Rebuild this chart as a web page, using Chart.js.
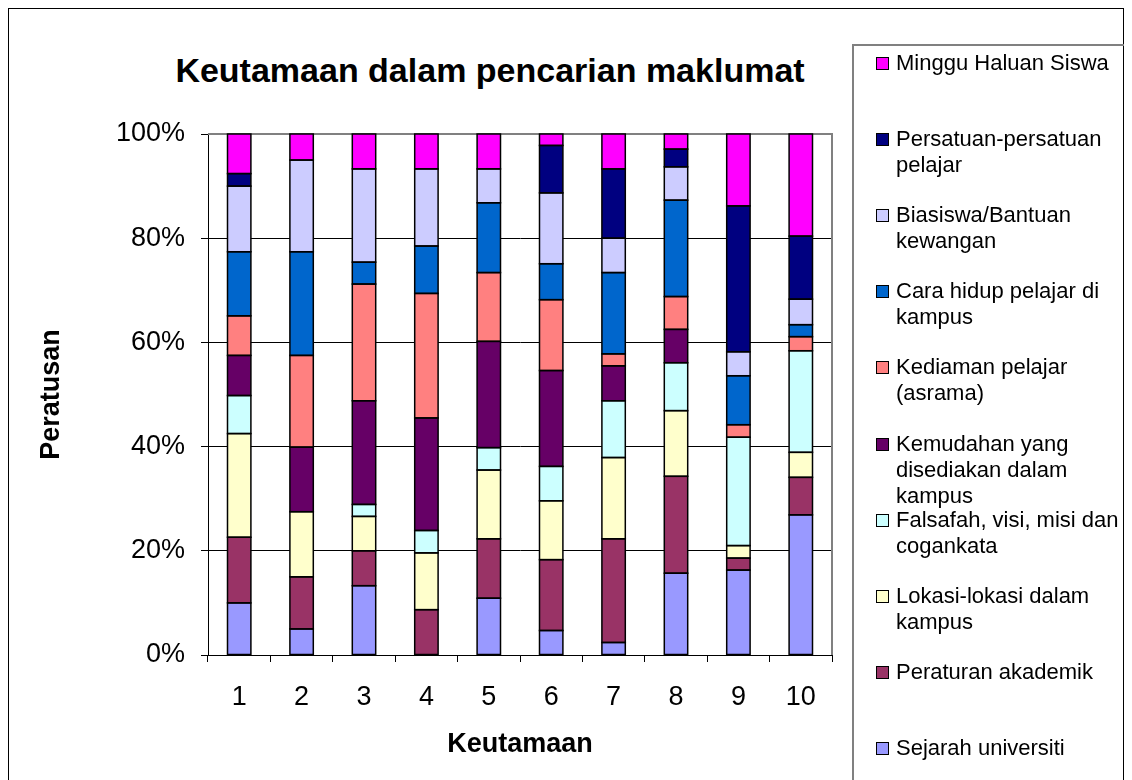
<!DOCTYPE html>
<html>
<head>
<meta charset="utf-8">
<script src="https://cdn.jsdelivr.net/npm/chart.js@4/dist/chart.umd.min.js"></script>
<style>
  body { margin: 0; background: #fff; font-family: Arial, "Liberation Sans", sans-serif; }
  #wrap { position: relative; width: 1132px; height: 780px; overflow: hidden; background: #fff; }
  #frame { position: absolute; left: 8px; top: 8px; width: 1116px; height: 800px; border: 1px solid #000; box-sizing: border-box; }
  #title { position: absolute; left: 0; width: 980px; top: 50px; text-align: center; font-weight: bold; font-size: 34px; line-height: 40px; color: #000; }
  #c { position: absolute; left: 0; top: 0; }
  #legend { position: absolute; left: 852px; top: 44px; width: 272px; height: 800px; border: 2px solid #808080; border-right: none; box-sizing: border-box; overflow: hidden; }
  .item { position: absolute; left: 22px; font-size: 22px; line-height: 26px; color: #000; white-space: pre; }
  .swatch { position: absolute; left: 0; top: 7px; width: 11px; height: 11px; border: 1px solid #000; }
  .label { position: absolute; left: 20px; top: 0; }
</style>
</head>
<body>
<div id="wrap">
  <div id="frame"></div>
  <div id="title">Keutamaan dalam pencarian maklumat</div>
  <canvas id="c" width="1132" height="780"></canvas>
  <div id="legend"></div>
</div>
<script>
const categories = ['1', '2', '3', '4', '5', '6', '7', '8', '9', '10'];

// series from bottom of the stack to top
const seriesNames = [
  'Sejarah universiti',
  'Peraturan akademik',
  'Lokasi-lokasi dalam\nkampus',
  'Falsafah, visi, misi dan\ncogankata',
  'Kemudahan yang\ndisediakan dalam\nkampus',
  'Kediaman pelajar\n(asrama)',
  'Cara hidup pelajar di\nkampus',
  'Biasiswa/Bantuan\nkewangan',
  'Persatuan-persatuan\npelajar',
  'Minggu Haluan Siswa'
];
const seriesColors = ['#9999FF', '#993366', '#FFFFCC', '#CCFFFF', '#660066',
                      '#FF8080', '#0066CC', '#CCCCFF', '#000080', '#FF00FF'];

const sejarah   = [10.0,  5.0, 13.3,  0.0, 10.9,  4.7,  2.4, 15.7, 16.3, 26.9];
const peraturan = [12.6, 10.0,  6.7,  8.7, 11.4, 13.6, 19.9, 18.6,  2.3,  7.2];
const lokasi    = [19.9, 12.5,  6.6, 10.9, 13.2, 11.3, 15.6, 12.6,  2.4,  4.8];
const falsafah  = [ 7.3,  0.0,  2.3,  4.3,  4.3,  6.6, 10.9,  9.2, 20.8, 19.5];
const kemudahan = [ 7.7, 12.4, 19.9, 21.6, 20.4, 18.4,  6.7,  6.4,  0.0,  0.0];
const kediaman  = [ 7.6, 17.6, 22.4, 23.9, 13.2, 13.6,  2.3,  6.3,  2.4,  2.7];
const caraHidup = [12.3, 19.9,  4.2,  9.1, 13.4,  6.9, 15.6, 18.5,  9.4,  2.3];
const biasiswa  = [12.6, 17.6, 17.9, 14.8,  6.5, 13.6,  6.6,  6.4,  4.6,  4.9];
const persatuan = [ 2.4,  0.0,  0.0,  0.0,  0.0,  9.1, 13.3,  3.4, 28.0, 12.1];
const minggu    = [ 7.6,  5.0,  6.7,  6.7,  6.7,  2.2,  6.7,  2.9, 13.8, 19.6];

const seriesValues = [sejarah, peraturan, lokasi, falsafah, kemudahan,
                      kediaman, caraHidup, biasiswa, persatuan, minggu];

const yTicks = [0, 20, 40, 60, 80, 100];

Chart.defaults.font.family = 'Arial, "Liberation Sans", sans-serif';
Chart.defaults.color = '#000';

const datasets = seriesNames.map((name, i) => ({
  label: name,
  data: seriesValues[i],
  backgroundColor: seriesColors[i],
  borderWidth: 0,
  barPercentage: 0.375,
  categoryPercentage: 1.0
}));

// gray plot area border on top and right, like the Excel plot frame
const plotFrame = {
  id: 'plotFrame',
  beforeDatasetsDraw(chart) {
    const { ctx, chartArea: a } = chart;
    ctx.save();
    ctx.strokeStyle = '#808080';
    ctx.lineWidth = 2;
    ctx.beginPath();
    ctx.moveTo(a.left, a.top);
    ctx.lineTo(a.right, a.top);
    ctx.lineTo(a.right, a.bottom);
    ctx.stroke();
    ctx.restore();
  }
};

// black outline round every segment, shared edges drawn once
const segOutline = {
  id: 'segOutline',
  afterDatasetsDraw(chart) {
    const ctx = chart.ctx;
    ctx.save();
    ctx.strokeStyle = '#000';
    ctx.lineWidth = 1.5;
    chart.data.datasets.forEach((ds, di) => {
      chart.getDatasetMeta(di).data.forEach(bar => {
        const { x, y, base, width } = bar.getProps(['x', 'y', 'base', 'width'], true);
        if (Math.abs(base - y) < 0.5) return;
        ctx.strokeRect(x - width / 2, Math.min(y, base), width, Math.abs(base - y));
      });
    });
    ctx.restore();
  }
};

new Chart(document.getElementById('c'), {
  type: 'bar',
  data: { labels: categories, datasets: datasets },
  options: {
    responsive: false,
    animation: false,
    layout: { padding: { left: 0, top: 134, right: 300, bottom: 0 } },
    plugins: {
      legend: { display: false },
      title: { display: false },
      tooltip: { enabled: false }
    },
    scales: {
      x: {
        stacked: true,
        afterFit: s => { s.height = 125; },
        grid: { offset: true, drawOnChartArea: false, color: '#000', tickLength: 7 },
        border: { color: '#000', width: 1 },
        ticks: { font: { size: 27 }, padding: 19, color: '#000' },
        title: { display: true, text: 'Keutamaan', font: { size: 27, weight: 'bold' }, padding: { bottom: 19 } }
      },
      y: {
        stacked: true,
        min: 0,
        max: 100,
        afterFit: s => { s.width = 208; },
        afterBuildTicks: s => { s.ticks = yTicks.map(v => ({ value: v })); },
        grid: {
          color: c => (c.tick && c.tick.value === 100) ? 'rgba(0,0,0,0)' : '#000',
          tickColor: '#000',
          tickLength: 7
        },
        border: { color: '#000', width: 1 },
        ticks: { font: { size: 27 }, padding: 16, color: '#000', callback: v => v + '%' },
        title: { display: true, text: 'Peratusan', font: { size: 27, weight: 'bold' }, padding: { top: 35 } }
      }
    }
  },
  plugins: [plotFrame, segOutline]
});

// legend, listed top of stack first
const legend = document.getElementById('legend');
for (let k = 0; k < seriesNames.length; k++) {
  const i = seriesNames.length - 1 - k;
  const item = document.createElement('div');
  item.className = 'item';
  item.style.top = (61 - 44 + k * 76.1 - 13) + 'px';
  const sw = document.createElement('div');
  sw.className = 'swatch';
  sw.style.background = seriesColors[i];
  const lb = document.createElement('div');
  lb.className = 'label';
  lb.textContent = seriesNames[i];
  item.appendChild(sw);
  item.appendChild(lb);
  legend.appendChild(item);
}
</script>
</body>
</html>
